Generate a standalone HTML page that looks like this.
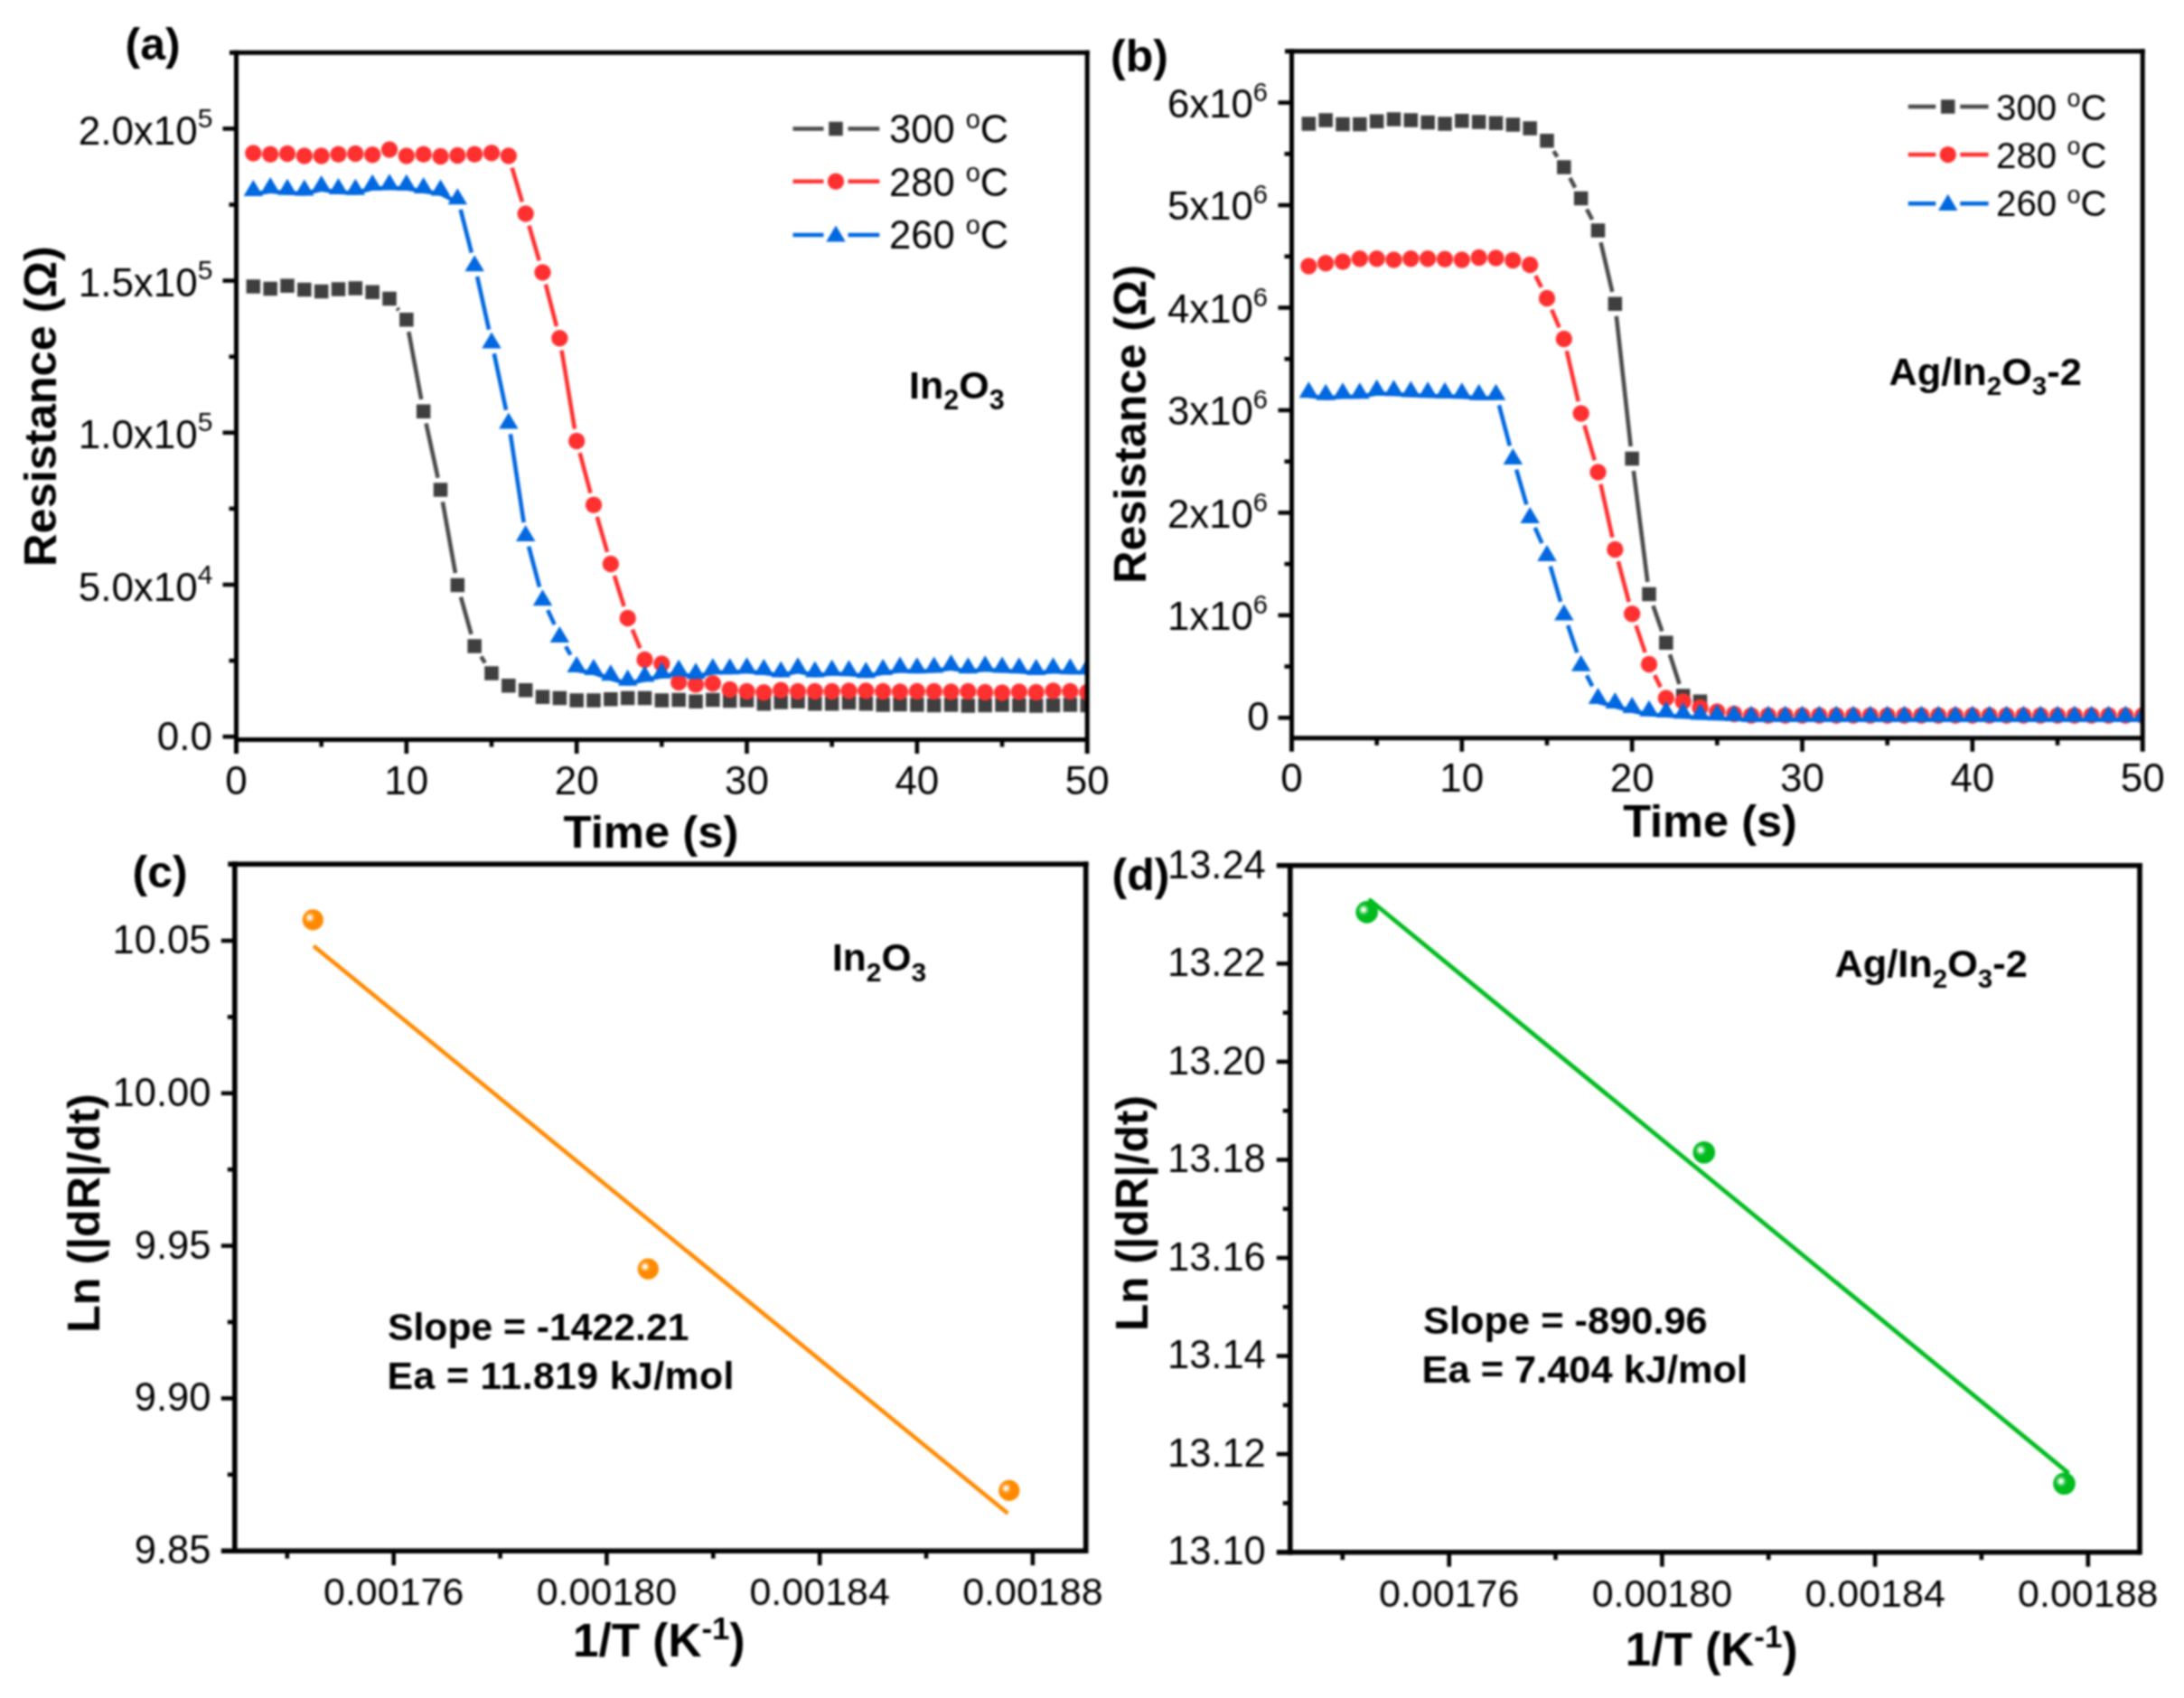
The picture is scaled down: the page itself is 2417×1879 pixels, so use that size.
<!DOCTYPE html>
<html lang="en"><head><meta charset="utf-8"><title>Resistance response and activation energy plots</title>
<style>html,body{margin:0;padding:0;background:#fff}svg{display:block}</style></head><body>
<svg width="2417" height="1879" viewBox="0 0 2417 1879" font-family='"Liberation Sans", Arial, Helvetica, sans-serif' fill="#000">
<defs>
<radialGradient id="gO" cx="0.35" cy="0.39" r="0.62" fx="0.35" fy="0.39"><stop offset="0" stop-color="#ffffff"/><stop offset="0.13" stop-color="#fff1de"/><stop offset="0.26" stop-color="#ffb458"/><stop offset="0.38" stop-color="#ff9212"/><stop offset="0.5" stop-color="#ff8a00"/><stop offset="1" stop-color="#ff8a00"/></radialGradient>
<radialGradient id="gG" cx="0.35" cy="0.39" r="0.62" fx="0.35" fy="0.39"><stop offset="0" stop-color="#ffffff"/><stop offset="0.13" stop-color="#e2fae6"/><stop offset="0.26" stop-color="#62d674"/><stop offset="0.38" stop-color="#14c030"/><stop offset="0.5" stop-color="#00bb1e"/><stop offset="1" stop-color="#00bb1e"/></radialGradient>
<filter id="soft" x="0" y="0" width="100%" height="100%" filterUnits="userSpaceOnUse" color-interpolation-filters="sRGB"><feGaussianBlur stdDeviation="0.8"/></filter>
</defs>
<rect width="2417" height="1879" fill="#fff"/>
<g filter="url(#soft)">
<rect x="-10" y="-10" width="2437" height="1899" fill="#fff"/>
<clipPath id="ca"><rect x="261.5" y="58.2" width="941.7" height="760.3"/></clipPath>
<g clip-path="url(#ca)">
<line x1="439.57" y1="341.07" x2="441.28" y2="343.18" stroke="#4a4a4a" stroke-width="4.6" stroke-linecap="butt"/>
<line x1="452.32" y1="367.12" x2="466.19" y2="441.88" stroke="#4a4a4a" stroke-width="4.6" stroke-linecap="butt"/>
<line x1="471.56" y1="468.54" x2="484.62" y2="528.71" stroke="#4a4a4a" stroke-width="4.6" stroke-linecap="butt"/>
<line x1="489.9" y1="555.39" x2="503.95" y2="634.11" stroke="#4a4a4a" stroke-width="4.6" stroke-linecap="butt"/>
<line x1="510" y1="660.6" x2="521.52" y2="701.9" stroke="#4a4a4a" stroke-width="4.6" stroke-linecap="butt"/>
<line x1="532.41" y1="726.52" x2="536.78" y2="733.48" stroke="#4a4a4a" stroke-width="4.6" stroke-linecap="butt"/>
<rect x="272.58" y="309.25" width="15.5" height="15.5" fill="#3f3f3f"/>
<rect x="291.42" y="311.75" width="15.5" height="15.5" fill="#3f3f3f"/>
<rect x="310.25" y="308.5" width="15.5" height="15.5" fill="#3f3f3f"/>
<rect x="329.09" y="312.75" width="15.5" height="15.5" fill="#3f3f3f"/>
<rect x="347.92" y="314.75" width="15.5" height="15.5" fill="#3f3f3f"/>
<rect x="366.75" y="312.25" width="15.5" height="15.5" fill="#3f3f3f"/>
<rect x="385.59" y="311.25" width="15.5" height="15.5" fill="#3f3f3f"/>
<rect x="404.42" y="315.5" width="15.5" height="15.5" fill="#3f3f3f"/>
<rect x="423.26" y="322.75" width="15.5" height="15.5" fill="#3f3f3f"/>
<rect x="442.09" y="346" width="15.5" height="15.5" fill="#3f3f3f"/>
<rect x="460.92" y="447.5" width="15.5" height="15.5" fill="#3f3f3f"/>
<rect x="479.76" y="534.25" width="15.5" height="15.5" fill="#3f3f3f"/>
<rect x="498.59" y="639.75" width="15.5" height="15.5" fill="#3f3f3f"/>
<rect x="517.43" y="707.25" width="15.5" height="15.5" fill="#3f3f3f"/>
<rect x="536.26" y="737.25" width="15.5" height="15.5" fill="#3f3f3f"/>
<rect x="555.09" y="751" width="15.5" height="15.5" fill="#3f3f3f"/>
<rect x="573.93" y="756" width="15.5" height="15.5" fill="#3f3f3f"/>
<rect x="592.76" y="763.5" width="15.5" height="15.5" fill="#3f3f3f"/>
<rect x="611.6" y="764.75" width="15.5" height="15.5" fill="#3f3f3f"/>
<rect x="630.43" y="767.25" width="15.5" height="15.5" fill="#3f3f3f"/>
<rect x="649.26" y="767.25" width="15.5" height="15.5" fill="#3f3f3f"/>
<rect x="668.1" y="766" width="15.5" height="15.5" fill="#3f3f3f"/>
<rect x="686.93" y="764.75" width="15.5" height="15.5" fill="#3f3f3f"/>
<rect x="705.77" y="764.75" width="15.5" height="15.5" fill="#3f3f3f"/>
<rect x="724.6" y="767.25" width="15.5" height="15.5" fill="#3f3f3f"/>
<rect x="743.43" y="766.75" width="15.5" height="15.5" fill="#3f3f3f"/>
<rect x="762.27" y="768.5" width="15.5" height="15.5" fill="#3f3f3f"/>
<rect x="781.1" y="766.75" width="15.5" height="15.5" fill="#3f3f3f"/>
<rect x="799.94" y="767.75" width="15.5" height="15.5" fill="#3f3f3f"/>
<rect x="818.77" y="767.25" width="15.5" height="15.5" fill="#3f3f3f"/>
<rect x="837.6" y="771" width="15.5" height="15.5" fill="#3f3f3f"/>
<rect x="856.44" y="769.25" width="15.5" height="15.5" fill="#3f3f3f"/>
<rect x="875.27" y="768.5" width="15.5" height="15.5" fill="#3f3f3f"/>
<rect x="894.11" y="771" width="15.5" height="15.5" fill="#3f3f3f"/>
<rect x="912.94" y="771" width="15.5" height="15.5" fill="#3f3f3f"/>
<rect x="931.77" y="769.75" width="15.5" height="15.5" fill="#3f3f3f"/>
<rect x="950.61" y="771" width="15.5" height="15.5" fill="#3f3f3f"/>
<rect x="969.44" y="772.25" width="15.5" height="15.5" fill="#3f3f3f"/>
<rect x="988.28" y="771.75" width="15.5" height="15.5" fill="#3f3f3f"/>
<rect x="1007.11" y="772.25" width="15.5" height="15.5" fill="#3f3f3f"/>
<rect x="1025.94" y="772.75" width="15.5" height="15.5" fill="#3f3f3f"/>
<rect x="1044.78" y="772.25" width="15.5" height="15.5" fill="#3f3f3f"/>
<rect x="1063.61" y="773.25" width="15.5" height="15.5" fill="#3f3f3f"/>
<rect x="1082.45" y="772.75" width="15.5" height="15.5" fill="#3f3f3f"/>
<rect x="1101.28" y="772.25" width="15.5" height="15.5" fill="#3f3f3f"/>
<rect x="1120.11" y="772.75" width="15.5" height="15.5" fill="#3f3f3f"/>
<rect x="1138.95" y="773.25" width="15.5" height="15.5" fill="#3f3f3f"/>
<rect x="1157.78" y="772.75" width="15.5" height="15.5" fill="#3f3f3f"/>
<rect x="1176.62" y="772.25" width="15.5" height="15.5" fill="#3f3f3f"/>
<rect x="1195.45" y="772.75" width="15.5" height="15.5" fill="#3f3f3f"/>
<line x1="566.68" y1="185.55" x2="577.84" y2="223.45" stroke="#ff3030" stroke-width="4.6" stroke-linecap="butt"/>
<line x1="585.46" y1="249.56" x2="596.73" y2="288.44" stroke="#ff3030" stroke-width="4.6" stroke-linecap="butt"/>
<line x1="603.92" y1="314.67" x2="615.94" y2="361.08" stroke="#ff3030" stroke-width="4.6" stroke-linecap="butt"/>
<line x1="621.57" y1="387.67" x2="635.96" y2="474.58" stroke="#ff3030" stroke-width="4.6" stroke-linecap="butt"/>
<line x1="641.68" y1="501.14" x2="653.52" y2="545.61" stroke="#ff3030" stroke-width="4.6" stroke-linecap="butt"/>
<line x1="660.79" y1="571.82" x2="672.08" y2="610.93" stroke="#ff3030" stroke-width="4.6" stroke-linecap="butt"/>
<line x1="679.92" y1="636.98" x2="690.61" y2="671.02" stroke="#ff3030" stroke-width="4.6" stroke-linecap="butt"/>
<line x1="699.84" y1="696.59" x2="708.36" y2="717.41" stroke="#ff3030" stroke-width="4.6" stroke-linecap="butt"/>
<line x1="741.55" y1="744.51" x2="741.98" y2="744.99" stroke="#ff3030" stroke-width="4.6" stroke-linecap="butt"/>
<circle cx="280.33" cy="169.5" r="9.2" fill="#ff3030"/>
<circle cx="299.17" cy="170.75" r="9.2" fill="#ff3030"/>
<circle cx="318" cy="170" r="9.2" fill="#ff3030"/>
<circle cx="336.84" cy="172.5" r="9.2" fill="#ff3030"/>
<circle cx="355.67" cy="172.5" r="9.2" fill="#ff3030"/>
<circle cx="374.5" cy="170.75" r="9.2" fill="#ff3030"/>
<circle cx="393.34" cy="170" r="9.2" fill="#ff3030"/>
<circle cx="412.17" cy="171.25" r="9.2" fill="#ff3030"/>
<circle cx="431.01" cy="165.5" r="9.2" fill="#ff3030"/>
<circle cx="449.84" cy="172.5" r="9.2" fill="#ff3030"/>
<circle cx="468.67" cy="170.75" r="9.2" fill="#ff3030"/>
<circle cx="487.51" cy="173" r="9.2" fill="#ff3030"/>
<circle cx="506.34" cy="172" r="9.2" fill="#ff3030"/>
<circle cx="525.18" cy="170.75" r="9.2" fill="#ff3030"/>
<circle cx="544.01" cy="169.25" r="9.2" fill="#ff3030"/>
<circle cx="562.84" cy="172.5" r="9.2" fill="#ff3030"/>
<circle cx="581.68" cy="236.5" r="9.2" fill="#ff3030"/>
<circle cx="600.51" cy="301.5" r="9.2" fill="#ff3030"/>
<circle cx="619.35" cy="374.25" r="9.2" fill="#ff3030"/>
<circle cx="638.18" cy="488" r="9.2" fill="#ff3030"/>
<circle cx="657.01" cy="558.75" r="9.2" fill="#ff3030"/>
<circle cx="675.85" cy="624" r="9.2" fill="#ff3030"/>
<circle cx="694.68" cy="684" r="9.2" fill="#ff3030"/>
<circle cx="713.52" cy="730" r="9.2" fill="#ff3030"/>
<circle cx="732.35" cy="734.5" r="9.2" fill="#ff3030"/>
<circle cx="751.18" cy="755" r="9.2" fill="#ff3030"/>
<circle cx="770.02" cy="757.5" r="9.2" fill="#ff3030"/>
<circle cx="788.85" cy="756.25" r="9.2" fill="#ff3030"/>
<circle cx="807.69" cy="763" r="9.2" fill="#ff3030"/>
<circle cx="826.52" cy="765" r="9.2" fill="#ff3030"/>
<circle cx="845.35" cy="766.25" r="9.2" fill="#ff3030"/>
<circle cx="864.19" cy="763.75" r="9.2" fill="#ff3030"/>
<circle cx="883.02" cy="765" r="9.2" fill="#ff3030"/>
<circle cx="901.86" cy="765" r="9.2" fill="#ff3030"/>
<circle cx="920.69" cy="765" r="9.2" fill="#ff3030"/>
<circle cx="939.52" cy="764.5" r="9.2" fill="#ff3030"/>
<circle cx="958.36" cy="764.5" r="9.2" fill="#ff3030"/>
<circle cx="977.19" cy="765" r="9.2" fill="#ff3030"/>
<circle cx="996.03" cy="765.5" r="9.2" fill="#ff3030"/>
<circle cx="1014.86" cy="765" r="9.2" fill="#ff3030"/>
<circle cx="1033.69" cy="765" r="9.2" fill="#ff3030"/>
<circle cx="1052.53" cy="765.5" r="9.2" fill="#ff3030"/>
<circle cx="1071.36" cy="765" r="9.2" fill="#ff3030"/>
<circle cx="1090.2" cy="766" r="9.2" fill="#ff3030"/>
<circle cx="1109.03" cy="766.5" r="9.2" fill="#ff3030"/>
<circle cx="1127.86" cy="765.5" r="9.2" fill="#ff3030"/>
<circle cx="1146.7" cy="766" r="9.2" fill="#ff3030"/>
<circle cx="1165.53" cy="764.5" r="9.2" fill="#ff3030"/>
<circle cx="1184.37" cy="765" r="9.2" fill="#ff3030"/>
<circle cx="1203.2" cy="766" r="9.2" fill="#ff3030"/>
<line x1="509.7" y1="231.93" x2="521.82" y2="279.57" stroke="#0068e0" stroke-width="4.6" stroke-linecap="butt"/>
<line x1="528.11" y1="306.03" x2="541.08" y2="364.72" stroke="#0068e0" stroke-width="4.6" stroke-linecap="butt"/>
<line x1="546.83" y1="391.31" x2="560.03" y2="453.69" stroke="#0068e0" stroke-width="4.6" stroke-linecap="butt"/>
<line x1="564.88" y1="480.45" x2="579.64" y2="578.05" stroke="#0068e0" stroke-width="4.6" stroke-linecap="butt"/>
<line x1="585.15" y1="604.65" x2="597.04" y2="649.6" stroke="#0068e0" stroke-width="4.6" stroke-linecap="butt"/>
<line x1="606.22" y1="675.1" x2="613.64" y2="691.15" stroke="#0068e0" stroke-width="4.6" stroke-linecap="butt"/>
<line x1="626.09" y1="715.31" x2="631.44" y2="724.69" stroke="#0068e0" stroke-width="4.6" stroke-linecap="butt"/>
<line x1="280.33" y1="214.8" x2="299.17" y2="211.8" stroke="#0068e0" stroke-width="4.6" stroke-linecap="butt"/>
<line x1="299.17" y1="211.8" x2="318" y2="213.55" stroke="#0068e0" stroke-width="4.6" stroke-linecap="butt"/>
<line x1="318" y1="213.55" x2="336.84" y2="214.3" stroke="#0068e0" stroke-width="4.6" stroke-linecap="butt"/>
<line x1="336.84" y1="214.3" x2="355.67" y2="209.8" stroke="#0068e0" stroke-width="4.6" stroke-linecap="butt"/>
<line x1="355.67" y1="209.8" x2="374.5" y2="212.8" stroke="#0068e0" stroke-width="4.6" stroke-linecap="butt"/>
<line x1="374.5" y1="212.8" x2="393.34" y2="213.55" stroke="#0068e0" stroke-width="4.6" stroke-linecap="butt"/>
<line x1="393.34" y1="213.55" x2="412.17" y2="208.55" stroke="#0068e0" stroke-width="4.6" stroke-linecap="butt"/>
<line x1="412.17" y1="208.55" x2="431.01" y2="208.05" stroke="#0068e0" stroke-width="4.6" stroke-linecap="butt"/>
<line x1="431.01" y1="208.05" x2="449.84" y2="208.55" stroke="#0068e0" stroke-width="4.6" stroke-linecap="butt"/>
<line x1="449.84" y1="208.55" x2="468.67" y2="211.8" stroke="#0068e0" stroke-width="4.6" stroke-linecap="butt"/>
<line x1="468.67" y1="211.8" x2="487.51" y2="214.3" stroke="#0068e0" stroke-width="4.6" stroke-linecap="butt"/>
<line x1="487.51" y1="214.3" x2="506.34" y2="224.05" stroke="#0068e0" stroke-width="4.6" stroke-linecap="butt"/>
<line x1="638.18" y1="741.8" x2="657.01" y2="744.8" stroke="#0068e0" stroke-width="4.6" stroke-linecap="butt"/>
<line x1="657.01" y1="744.8" x2="675.85" y2="751.05" stroke="#0068e0" stroke-width="4.6" stroke-linecap="butt"/>
<line x1="675.85" y1="751.05" x2="694.68" y2="756.55" stroke="#0068e0" stroke-width="4.6" stroke-linecap="butt"/>
<line x1="694.68" y1="756.55" x2="713.52" y2="752.3" stroke="#0068e0" stroke-width="4.6" stroke-linecap="butt"/>
<line x1="713.52" y1="752.3" x2="732.35" y2="748.55" stroke="#0068e0" stroke-width="4.6" stroke-linecap="butt"/>
<line x1="732.35" y1="748.55" x2="751.18" y2="745.55" stroke="#0068e0" stroke-width="4.6" stroke-linecap="butt"/>
<line x1="751.18" y1="745.55" x2="770.02" y2="749.05" stroke="#0068e0" stroke-width="4.6" stroke-linecap="butt"/>
<line x1="770.02" y1="749.05" x2="788.85" y2="744.05" stroke="#0068e0" stroke-width="4.6" stroke-linecap="butt"/>
<line x1="788.85" y1="744.05" x2="807.69" y2="744.05" stroke="#0068e0" stroke-width="4.6" stroke-linecap="butt"/>
<line x1="807.69" y1="744.05" x2="826.52" y2="743.05" stroke="#0068e0" stroke-width="4.6" stroke-linecap="butt"/>
<line x1="826.52" y1="743.05" x2="845.35" y2="744.8" stroke="#0068e0" stroke-width="4.6" stroke-linecap="butt"/>
<line x1="845.35" y1="744.8" x2="864.19" y2="747.3" stroke="#0068e0" stroke-width="4.6" stroke-linecap="butt"/>
<line x1="864.19" y1="747.3" x2="883.02" y2="743.05" stroke="#0068e0" stroke-width="4.6" stroke-linecap="butt"/>
<line x1="883.02" y1="743.05" x2="901.86" y2="747.3" stroke="#0068e0" stroke-width="4.6" stroke-linecap="butt"/>
<line x1="901.86" y1="747.3" x2="920.69" y2="745.55" stroke="#0068e0" stroke-width="4.6" stroke-linecap="butt"/>
<line x1="920.69" y1="745.55" x2="939.52" y2="746.05" stroke="#0068e0" stroke-width="4.6" stroke-linecap="butt"/>
<line x1="939.52" y1="746.05" x2="958.36" y2="748.05" stroke="#0068e0" stroke-width="4.6" stroke-linecap="butt"/>
<line x1="958.36" y1="748.05" x2="977.19" y2="744.8" stroke="#0068e0" stroke-width="4.6" stroke-linecap="butt"/>
<line x1="977.19" y1="744.8" x2="996.03" y2="742.3" stroke="#0068e0" stroke-width="4.6" stroke-linecap="butt"/>
<line x1="996.03" y1="742.3" x2="1014.86" y2="743.05" stroke="#0068e0" stroke-width="4.6" stroke-linecap="butt"/>
<line x1="1014.86" y1="743.05" x2="1033.69" y2="742.3" stroke="#0068e0" stroke-width="4.6" stroke-linecap="butt"/>
<line x1="1033.69" y1="742.3" x2="1052.53" y2="739.8" stroke="#0068e0" stroke-width="4.6" stroke-linecap="butt"/>
<line x1="1052.53" y1="739.8" x2="1071.36" y2="743.05" stroke="#0068e0" stroke-width="4.6" stroke-linecap="butt"/>
<line x1="1071.36" y1="743.05" x2="1090.2" y2="741.05" stroke="#0068e0" stroke-width="4.6" stroke-linecap="butt"/>
<line x1="1090.2" y1="741.05" x2="1109.03" y2="742.3" stroke="#0068e0" stroke-width="4.6" stroke-linecap="butt"/>
<line x1="1109.03" y1="742.3" x2="1127.86" y2="743.05" stroke="#0068e0" stroke-width="4.6" stroke-linecap="butt"/>
<line x1="1127.86" y1="743.05" x2="1146.7" y2="744.8" stroke="#0068e0" stroke-width="4.6" stroke-linecap="butt"/>
<line x1="1146.7" y1="744.8" x2="1165.53" y2="743.05" stroke="#0068e0" stroke-width="4.6" stroke-linecap="butt"/>
<line x1="1165.53" y1="743.05" x2="1184.37" y2="744.05" stroke="#0068e0" stroke-width="4.6" stroke-linecap="butt"/>
<line x1="1184.37" y1="744.05" x2="1203.2" y2="744.05" stroke="#0068e0" stroke-width="4.6" stroke-linecap="butt"/>
<path d="M269.58 217.1L291.08 217.1L280.33 198.9Z" fill="#0068e0"/>
<path d="M288.42 214.1L309.92 214.1L299.17 195.9Z" fill="#0068e0"/>
<path d="M307.25 215.85L328.75 215.85L318 197.65Z" fill="#0068e0"/>
<path d="M326.09 216.6L347.59 216.6L336.84 198.4Z" fill="#0068e0"/>
<path d="M344.92 212.1L366.42 212.1L355.67 193.9Z" fill="#0068e0"/>
<path d="M363.75 215.1L385.25 215.1L374.5 196.9Z" fill="#0068e0"/>
<path d="M382.59 215.85L404.09 215.85L393.34 197.65Z" fill="#0068e0"/>
<path d="M401.42 210.85L422.92 210.85L412.17 192.65Z" fill="#0068e0"/>
<path d="M420.26 210.35L441.76 210.35L431.01 192.15Z" fill="#0068e0"/>
<path d="M439.09 210.85L460.59 210.85L449.84 192.65Z" fill="#0068e0"/>
<path d="M457.92 214.1L479.42 214.1L468.67 195.9Z" fill="#0068e0"/>
<path d="M476.76 216.6L498.26 216.6L487.51 198.4Z" fill="#0068e0"/>
<path d="M495.59 226.35L517.09 226.35L506.34 208.15Z" fill="#0068e0"/>
<path d="M514.43 300.35L535.93 300.35L525.18 282.15Z" fill="#0068e0"/>
<path d="M533.26 385.6L554.76 385.6L544.01 367.4Z" fill="#0068e0"/>
<path d="M552.09 474.6L573.59 474.6L562.84 456.4Z" fill="#0068e0"/>
<path d="M570.93 599.1L592.43 599.1L581.68 580.9Z" fill="#0068e0"/>
<path d="M589.76 670.35L611.26 670.35L600.51 652.15Z" fill="#0068e0"/>
<path d="M608.6 711.1L630.1 711.1L619.35 692.9Z" fill="#0068e0"/>
<path d="M627.43 744.1L648.93 744.1L638.18 725.9Z" fill="#0068e0"/>
<path d="M646.26 747.1L667.76 747.1L657.01 728.9Z" fill="#0068e0"/>
<path d="M665.1 753.35L686.6 753.35L675.85 735.15Z" fill="#0068e0"/>
<path d="M683.93 758.85L705.43 758.85L694.68 740.65Z" fill="#0068e0"/>
<path d="M702.77 754.6L724.27 754.6L713.52 736.4Z" fill="#0068e0"/>
<path d="M721.6 750.85L743.1 750.85L732.35 732.65Z" fill="#0068e0"/>
<path d="M740.43 747.85L761.93 747.85L751.18 729.65Z" fill="#0068e0"/>
<path d="M759.27 751.35L780.77 751.35L770.02 733.15Z" fill="#0068e0"/>
<path d="M778.1 746.35L799.6 746.35L788.85 728.15Z" fill="#0068e0"/>
<path d="M796.94 746.35L818.44 746.35L807.69 728.15Z" fill="#0068e0"/>
<path d="M815.77 745.35L837.27 745.35L826.52 727.15Z" fill="#0068e0"/>
<path d="M834.6 747.1L856.1 747.1L845.35 728.9Z" fill="#0068e0"/>
<path d="M853.44 749.6L874.94 749.6L864.19 731.4Z" fill="#0068e0"/>
<path d="M872.27 745.35L893.77 745.35L883.02 727.15Z" fill="#0068e0"/>
<path d="M891.11 749.6L912.61 749.6L901.86 731.4Z" fill="#0068e0"/>
<path d="M909.94 747.85L931.44 747.85L920.69 729.65Z" fill="#0068e0"/>
<path d="M928.77 748.35L950.27 748.35L939.52 730.15Z" fill="#0068e0"/>
<path d="M947.61 750.35L969.11 750.35L958.36 732.15Z" fill="#0068e0"/>
<path d="M966.44 747.1L987.94 747.1L977.19 728.9Z" fill="#0068e0"/>
<path d="M985.28 744.6L1006.78 744.6L996.03 726.4Z" fill="#0068e0"/>
<path d="M1004.11 745.35L1025.61 745.35L1014.86 727.15Z" fill="#0068e0"/>
<path d="M1022.94 744.6L1044.44 744.6L1033.69 726.4Z" fill="#0068e0"/>
<path d="M1041.78 742.1L1063.28 742.1L1052.53 723.9Z" fill="#0068e0"/>
<path d="M1060.61 745.35L1082.11 745.35L1071.36 727.15Z" fill="#0068e0"/>
<path d="M1079.45 743.35L1100.95 743.35L1090.2 725.15Z" fill="#0068e0"/>
<path d="M1098.28 744.6L1119.78 744.6L1109.03 726.4Z" fill="#0068e0"/>
<path d="M1117.11 745.35L1138.61 745.35L1127.86 727.15Z" fill="#0068e0"/>
<path d="M1135.95 747.1L1157.45 747.1L1146.7 728.9Z" fill="#0068e0"/>
<path d="M1154.78 745.35L1176.28 745.35L1165.53 727.15Z" fill="#0068e0"/>
<path d="M1173.62 746.35L1195.12 746.35L1184.37 728.15Z" fill="#0068e0"/>
<path d="M1192.45 746.35L1213.95 746.35L1203.2 728.15Z" fill="#0068e0"/>
</g>
<line x1="254" y1="58.2" x2="1205.7" y2="58.2" stroke="#000" stroke-width="5" stroke-linecap="butt"/>
<line x1="261.5" y1="55.7" x2="261.5" y2="834" stroke="#000" stroke-width="5" stroke-linecap="butt"/>
<line x1="1203.2" y1="55.7" x2="1203.2" y2="834" stroke="#000" stroke-width="5" stroke-linecap="butt"/>
<line x1="261.5" y1="818.5" x2="1203.2" y2="818.5" stroke="#000" stroke-width="5" stroke-linecap="butt"/>
<line x1="246.5" y1="815.2" x2="261.5" y2="815.2" stroke="#000" stroke-width="4.6" stroke-linecap="butt"/>
<line x1="253.5" y1="731.1" x2="261.5" y2="731.1" stroke="#000" stroke-width="4.6" stroke-linecap="butt"/>
<line x1="246.5" y1="647" x2="261.5" y2="647" stroke="#000" stroke-width="4.6" stroke-linecap="butt"/>
<line x1="253.5" y1="562.9" x2="261.5" y2="562.9" stroke="#000" stroke-width="4.6" stroke-linecap="butt"/>
<line x1="246.5" y1="478.8" x2="261.5" y2="478.8" stroke="#000" stroke-width="4.6" stroke-linecap="butt"/>
<line x1="253.5" y1="394.7" x2="261.5" y2="394.7" stroke="#000" stroke-width="4.6" stroke-linecap="butt"/>
<line x1="246.5" y1="310.6" x2="261.5" y2="310.6" stroke="#000" stroke-width="4.6" stroke-linecap="butt"/>
<line x1="253.5" y1="226.5" x2="261.5" y2="226.5" stroke="#000" stroke-width="4.6" stroke-linecap="butt"/>
<line x1="246.5" y1="142.4" x2="261.5" y2="142.4" stroke="#000" stroke-width="4.6" stroke-linecap="butt"/>
<line x1="355.67" y1="818.5" x2="355.67" y2="826.5" stroke="#000" stroke-width="4.6" stroke-linecap="butt"/>
<text x="261.5" y="878.5" font-size="44" text-anchor="middle">0</text>
<line x1="449.84" y1="818.5" x2="449.84" y2="834" stroke="#000" stroke-width="4.6" stroke-linecap="butt"/>
<line x1="544.01" y1="818.5" x2="544.01" y2="826.5" stroke="#000" stroke-width="4.6" stroke-linecap="butt"/>
<text x="449.84" y="878.5" font-size="44" text-anchor="middle">10</text>
<line x1="638.18" y1="818.5" x2="638.18" y2="834" stroke="#000" stroke-width="4.6" stroke-linecap="butt"/>
<line x1="732.35" y1="818.5" x2="732.35" y2="826.5" stroke="#000" stroke-width="4.6" stroke-linecap="butt"/>
<text x="638.18" y="878.5" font-size="44" text-anchor="middle">20</text>
<line x1="826.52" y1="818.5" x2="826.52" y2="834" stroke="#000" stroke-width="4.6" stroke-linecap="butt"/>
<line x1="920.69" y1="818.5" x2="920.69" y2="826.5" stroke="#000" stroke-width="4.6" stroke-linecap="butt"/>
<text x="826.52" y="878.5" font-size="44" text-anchor="middle">30</text>
<line x1="1014.86" y1="818.5" x2="1014.86" y2="834" stroke="#000" stroke-width="4.6" stroke-linecap="butt"/>
<line x1="1109.03" y1="818.5" x2="1109.03" y2="826.5" stroke="#000" stroke-width="4.6" stroke-linecap="butt"/>
<text x="1014.86" y="878.5" font-size="44" text-anchor="middle">40</text>
<text x="1203.2" y="878.5" font-size="44" text-anchor="middle">50</text>
<text x="235" y="829.8" font-size="44" text-anchor="end">0.0</text>
<text x="235.5" y="664.5" font-size="44" text-anchor="end">5.0x10<tspan font-size="30" dy="-19">4</tspan></text>
<text x="235.5" y="496.3" font-size="44" text-anchor="end">1.0x10<tspan font-size="30" dy="-19">5</tspan></text>
<text x="235.5" y="328.1" font-size="44" text-anchor="end">1.5x10<tspan font-size="30" dy="-19">5</tspan></text>
<text x="235.5" y="159.9" font-size="44" text-anchor="end">2.0x10<tspan font-size="30" dy="-19">5</tspan></text>
<text transform="translate(61.5 449.5) rotate(-90)" font-size="50.5" font-weight="bold" text-anchor="middle">Resistance (Ω)</text>
<text x="720.5" y="937.5" font-size="50.8" font-weight="bold" text-anchor="middle">Time (s)</text>
<text x="138.5" y="66.4" font-size="50" font-weight="bold" text-anchor="start">(a)</text>
<text x="1006" y="440.5" font-size="43" font-weight="bold" text-anchor="start">In<tspan font-size="30.5" dy="12">2</tspan><tspan dy="-12">O</tspan><tspan font-size="30.5" dy="12">3</tspan></text>
<line x1="877.5" y1="142.5" x2="911.5" y2="142.5" stroke="#4a4a4a" stroke-width="4.6" stroke-linecap="butt"/>
<line x1="938.5" y1="142.5" x2="973.3" y2="142.5" stroke="#4a4a4a" stroke-width="4.6" stroke-linecap="butt"/>
<rect x="917.25" y="134.75" width="15.5" height="15.5" fill="#3f3f3f"/>
<text x="984" y="157.5" font-size="43.5" text-anchor="start">300 <tspan font-size="29" dy="-15.66">o</tspan><tspan dy="15.66">C</tspan></text>
<line x1="877.5" y1="200.8" x2="911.5" y2="200.8" stroke="#ff3030" stroke-width="4.6" stroke-linecap="butt"/>
<line x1="938.5" y1="200.8" x2="973.3" y2="200.8" stroke="#ff3030" stroke-width="4.6" stroke-linecap="butt"/>
<circle cx="925" cy="200.8" r="9.2" fill="#ff3030"/>
<text x="984" y="216.5" font-size="43.5" text-anchor="start">280 <tspan font-size="29" dy="-15.66">o</tspan><tspan dy="15.66">C</tspan></text>
<line x1="877.5" y1="260" x2="911.5" y2="260" stroke="#0068e0" stroke-width="4.6" stroke-linecap="butt"/>
<line x1="938.5" y1="260" x2="973.3" y2="260" stroke="#0068e0" stroke-width="4.6" stroke-linecap="butt"/>
<path d="M914.25 267.6L935.75 267.6L925 249.4Z" fill="#0068e0"/>
<text x="984" y="275" font-size="43.5" text-anchor="start">260 <tspan font-size="29" dy="-15.66">o</tspan><tspan dy="15.66">C</tspan></text>
<clipPath id="cb"><rect x="1429.5" y="56.8" width="941.7" height="760"/></clipPath>
<g clip-path="url(#cb)">
<line x1="1719.37" y1="167.18" x2="1723.48" y2="173.57" stroke="#4a4a4a" stroke-width="4.6" stroke-linecap="butt"/>
<line x1="1737.36" y1="196.94" x2="1743.16" y2="207.56" stroke="#4a4a4a" stroke-width="4.6" stroke-linecap="butt"/>
<line x1="1756.05" y1="231.51" x2="1762.14" y2="242.99" stroke="#4a4a4a" stroke-width="4.6" stroke-linecap="butt"/>
<line x1="1771.58" y1="268.25" x2="1784.27" y2="323" stroke="#4a4a4a" stroke-width="4.6" stroke-linecap="butt"/>
<line x1="1788.83" y1="349.77" x2="1804.69" y2="493.98" stroke="#4a4a4a" stroke-width="4.6" stroke-linecap="butt"/>
<line x1="1807.87" y1="520.99" x2="1823.32" y2="644.01" stroke="#4a4a4a" stroke-width="4.6" stroke-linecap="butt"/>
<line x1="1829.51" y1="670.33" x2="1839.35" y2="698.42" stroke="#4a4a4a" stroke-width="4.6" stroke-linecap="butt"/>
<line x1="1848" y1="724.2" x2="1858.53" y2="757.05" stroke="#4a4a4a" stroke-width="4.6" stroke-linecap="butt"/>
<rect x="1440.58" y="129.25" width="15.5" height="15.5" fill="#3f3f3f"/>
<rect x="1459.42" y="125.25" width="15.5" height="15.5" fill="#3f3f3f"/>
<rect x="1478.25" y="129.75" width="15.5" height="15.5" fill="#3f3f3f"/>
<rect x="1497.09" y="129.75" width="15.5" height="15.5" fill="#3f3f3f"/>
<rect x="1515.92" y="126.5" width="15.5" height="15.5" fill="#3f3f3f"/>
<rect x="1534.75" y="124.25" width="15.5" height="15.5" fill="#3f3f3f"/>
<rect x="1553.59" y="125.25" width="15.5" height="15.5" fill="#3f3f3f"/>
<rect x="1572.42" y="127.75" width="15.5" height="15.5" fill="#3f3f3f"/>
<rect x="1591.26" y="129.25" width="15.5" height="15.5" fill="#3f3f3f"/>
<rect x="1610.09" y="126" width="15.5" height="15.5" fill="#3f3f3f"/>
<rect x="1628.92" y="127.25" width="15.5" height="15.5" fill="#3f3f3f"/>
<rect x="1647.76" y="128.5" width="15.5" height="15.5" fill="#3f3f3f"/>
<rect x="1666.59" y="130.25" width="15.5" height="15.5" fill="#3f3f3f"/>
<rect x="1685.43" y="134.25" width="15.5" height="15.5" fill="#3f3f3f"/>
<rect x="1704.26" y="148" width="15.5" height="15.5" fill="#3f3f3f"/>
<rect x="1723.09" y="177.25" width="15.5" height="15.5" fill="#3f3f3f"/>
<rect x="1741.93" y="211.75" width="15.5" height="15.5" fill="#3f3f3f"/>
<rect x="1760.76" y="247.25" width="15.5" height="15.5" fill="#3f3f3f"/>
<rect x="1779.6" y="328.5" width="15.5" height="15.5" fill="#3f3f3f"/>
<rect x="1798.43" y="499.75" width="15.5" height="15.5" fill="#3f3f3f"/>
<rect x="1817.26" y="649.75" width="15.5" height="15.5" fill="#3f3f3f"/>
<rect x="1836.1" y="703.5" width="15.5" height="15.5" fill="#3f3f3f"/>
<rect x="1854.93" y="762.25" width="15.5" height="15.5" fill="#3f3f3f"/>
<rect x="1873.77" y="768.5" width="15.5" height="15.5" fill="#3f3f3f"/>
<line x1="1699.35" y1="305.12" x2="1705.84" y2="317.88" stroke="#ff3030" stroke-width="4.6" stroke-linecap="butt"/>
<line x1="1717.26" y1="342.55" x2="1725.59" y2="362.45" stroke="#ff3030" stroke-width="4.6" stroke-linecap="butt"/>
<line x1="1733.87" y1="388.26" x2="1746.65" y2="444.24" stroke="#ff3030" stroke-width="4.6" stroke-linecap="butt"/>
<line x1="1753.46" y1="470.56" x2="1764.73" y2="509.44" stroke="#ff3030" stroke-width="4.6" stroke-linecap="butt"/>
<line x1="1771.44" y1="535.78" x2="1784.42" y2="594.72" stroke="#ff3030" stroke-width="4.6" stroke-linecap="butt"/>
<line x1="1790.82" y1="621.15" x2="1802.7" y2="666.1" stroke="#ff3030" stroke-width="4.6" stroke-linecap="butt"/>
<line x1="1810.53" y1="692.13" x2="1820.66" y2="722.12" stroke="#ff3030" stroke-width="4.6" stroke-linecap="butt"/>
<line x1="1831.12" y1="747.15" x2="1837.74" y2="760.35" stroke="#ff3030" stroke-width="4.6" stroke-linecap="butt"/>
<circle cx="1448.33" cy="294.5" r="9.2" fill="#ff3030"/>
<circle cx="1467.17" cy="291.25" r="9.2" fill="#ff3030"/>
<circle cx="1486" cy="289.5" r="9.2" fill="#ff3030"/>
<circle cx="1504.84" cy="286.25" r="9.2" fill="#ff3030"/>
<circle cx="1523.67" cy="286.25" r="9.2" fill="#ff3030"/>
<circle cx="1542.5" cy="287.5" r="9.2" fill="#ff3030"/>
<circle cx="1561.34" cy="286.25" r="9.2" fill="#ff3030"/>
<circle cx="1580.17" cy="286.25" r="9.2" fill="#ff3030"/>
<circle cx="1599.01" cy="286.75" r="9.2" fill="#ff3030"/>
<circle cx="1617.84" cy="287.5" r="9.2" fill="#ff3030"/>
<circle cx="1636.67" cy="285" r="9.2" fill="#ff3030"/>
<circle cx="1655.51" cy="285.5" r="9.2" fill="#ff3030"/>
<circle cx="1674.34" cy="288" r="9.2" fill="#ff3030"/>
<circle cx="1693.18" cy="293" r="9.2" fill="#ff3030"/>
<circle cx="1712.01" cy="330" r="9.2" fill="#ff3030"/>
<circle cx="1730.84" cy="375" r="9.2" fill="#ff3030"/>
<circle cx="1749.68" cy="457.5" r="9.2" fill="#ff3030"/>
<circle cx="1768.51" cy="522.5" r="9.2" fill="#ff3030"/>
<circle cx="1787.35" cy="608" r="9.2" fill="#ff3030"/>
<circle cx="1806.18" cy="679.25" r="9.2" fill="#ff3030"/>
<circle cx="1825.01" cy="735" r="9.2" fill="#ff3030"/>
<circle cx="1843.85" cy="772.5" r="9.2" fill="#ff3030"/>
<circle cx="1862.68" cy="776.25" r="9.2" fill="#ff3030"/>
<circle cx="1881.52" cy="783" r="9.2" fill="#ff3030"/>
<circle cx="1900.35" cy="787.5" r="9.2" fill="#ff3030"/>
<circle cx="1919.18" cy="790" r="9.2" fill="#ff3030"/>
<circle cx="1938.02" cy="791.8" r="9.2" fill="#ff3030"/>
<circle cx="1956.85" cy="791.8" r="9.2" fill="#ff3030"/>
<circle cx="1975.69" cy="791.8" r="9.2" fill="#ff3030"/>
<circle cx="1994.52" cy="791.8" r="9.2" fill="#ff3030"/>
<circle cx="2013.35" cy="791.8" r="9.2" fill="#ff3030"/>
<circle cx="2032.19" cy="791.8" r="9.2" fill="#ff3030"/>
<circle cx="2051.02" cy="791.8" r="9.2" fill="#ff3030"/>
<circle cx="2069.86" cy="791.8" r="9.2" fill="#ff3030"/>
<circle cx="2088.69" cy="791.8" r="9.2" fill="#ff3030"/>
<circle cx="2107.52" cy="791.8" r="9.2" fill="#ff3030"/>
<circle cx="2126.36" cy="791.8" r="9.2" fill="#ff3030"/>
<circle cx="2145.19" cy="791.8" r="9.2" fill="#ff3030"/>
<circle cx="2164.03" cy="791.8" r="9.2" fill="#ff3030"/>
<circle cx="2182.86" cy="791.8" r="9.2" fill="#ff3030"/>
<circle cx="2201.69" cy="791.8" r="9.2" fill="#ff3030"/>
<circle cx="2220.53" cy="791.8" r="9.2" fill="#ff3030"/>
<circle cx="2239.36" cy="791.8" r="9.2" fill="#ff3030"/>
<circle cx="2258.2" cy="791.8" r="9.2" fill="#ff3030"/>
<circle cx="2277.03" cy="791.8" r="9.2" fill="#ff3030"/>
<circle cx="2295.86" cy="791.8" r="9.2" fill="#ff3030"/>
<circle cx="2314.7" cy="791.8" r="9.2" fill="#ff3030"/>
<circle cx="2333.53" cy="791.8" r="9.2" fill="#ff3030"/>
<circle cx="2352.37" cy="791.8" r="9.2" fill="#ff3030"/>
<circle cx="2371.2" cy="791.8" r="9.2" fill="#ff3030"/>
<line x1="1658.98" y1="448.4" x2="1670.87" y2="493.35" stroke="#0068e0" stroke-width="4.6" stroke-linecap="butt"/>
<line x1="1678.13" y1="519.56" x2="1689.39" y2="558.44" stroke="#0068e0" stroke-width="4.6" stroke-linecap="butt"/>
<line x1="1698.74" y1="583.91" x2="1706.45" y2="601.09" stroke="#0068e0" stroke-width="4.6" stroke-linecap="butt"/>
<line x1="1715.77" y1="626.57" x2="1727.09" y2="665.93" stroke="#0068e0" stroke-width="4.6" stroke-linecap="butt"/>
<line x1="1735.16" y1="691.9" x2="1745.36" y2="722.35" stroke="#0068e0" stroke-width="4.6" stroke-linecap="butt"/>
<line x1="1755.95" y1="747.32" x2="1762.24" y2="759.43" stroke="#0068e0" stroke-width="4.6" stroke-linecap="butt"/>
<line x1="1448.33" y1="438.05" x2="1467.17" y2="440.55" stroke="#0068e0" stroke-width="4.6" stroke-linecap="butt"/>
<line x1="1467.17" y1="440.55" x2="1486" y2="439.05" stroke="#0068e0" stroke-width="4.6" stroke-linecap="butt"/>
<line x1="1486" y1="439.05" x2="1504.84" y2="439.05" stroke="#0068e0" stroke-width="4.6" stroke-linecap="butt"/>
<line x1="1504.84" y1="439.05" x2="1523.67" y2="435.55" stroke="#0068e0" stroke-width="4.6" stroke-linecap="butt"/>
<line x1="1523.67" y1="435.55" x2="1542.5" y2="436.05" stroke="#0068e0" stroke-width="4.6" stroke-linecap="butt"/>
<line x1="1542.5" y1="436.05" x2="1561.34" y2="437.3" stroke="#0068e0" stroke-width="4.6" stroke-linecap="butt"/>
<line x1="1561.34" y1="437.3" x2="1580.17" y2="438.05" stroke="#0068e0" stroke-width="4.6" stroke-linecap="butt"/>
<line x1="1580.17" y1="438.05" x2="1599.01" y2="438.55" stroke="#0068e0" stroke-width="4.6" stroke-linecap="butt"/>
<line x1="1599.01" y1="438.55" x2="1617.84" y2="439.05" stroke="#0068e0" stroke-width="4.6" stroke-linecap="butt"/>
<line x1="1617.84" y1="439.05" x2="1636.67" y2="440.55" stroke="#0068e0" stroke-width="4.6" stroke-linecap="butt"/>
<line x1="1636.67" y1="440.55" x2="1655.51" y2="440.55" stroke="#0068e0" stroke-width="4.6" stroke-linecap="butt"/>
<line x1="1768.51" y1="776.8" x2="1787.35" y2="781.8" stroke="#0068e0" stroke-width="4.6" stroke-linecap="butt"/>
<line x1="1787.35" y1="781.8" x2="1806.18" y2="786.8" stroke="#0068e0" stroke-width="4.6" stroke-linecap="butt"/>
<line x1="1806.18" y1="786.8" x2="1825.01" y2="790.55" stroke="#0068e0" stroke-width="4.6" stroke-linecap="butt"/>
<line x1="1825.01" y1="790.55" x2="1843.85" y2="791.8" stroke="#0068e0" stroke-width="4.6" stroke-linecap="butt"/>
<line x1="1843.85" y1="791.8" x2="1862.68" y2="793.05" stroke="#0068e0" stroke-width="4.6" stroke-linecap="butt"/>
<line x1="1862.68" y1="793.05" x2="1881.52" y2="794.3" stroke="#0068e0" stroke-width="4.6" stroke-linecap="butt"/>
<line x1="1881.52" y1="794.3" x2="1900.35" y2="795.05" stroke="#0068e0" stroke-width="4.6" stroke-linecap="butt"/>
<line x1="1900.35" y1="795.05" x2="1919.18" y2="795.8" stroke="#0068e0" stroke-width="4.6" stroke-linecap="butt"/>
<line x1="1919.18" y1="795.8" x2="1938.02" y2="796.6" stroke="#0068e0" stroke-width="4.6" stroke-linecap="butt"/>
<line x1="1938.02" y1="796.6" x2="1956.85" y2="796.6" stroke="#0068e0" stroke-width="4.6" stroke-linecap="butt"/>
<line x1="1956.85" y1="796.6" x2="1975.69" y2="796.6" stroke="#0068e0" stroke-width="4.6" stroke-linecap="butt"/>
<line x1="1975.69" y1="796.6" x2="1994.52" y2="796.6" stroke="#0068e0" stroke-width="4.6" stroke-linecap="butt"/>
<line x1="1994.52" y1="796.6" x2="2013.35" y2="796.6" stroke="#0068e0" stroke-width="4.6" stroke-linecap="butt"/>
<line x1="2013.35" y1="796.6" x2="2032.19" y2="796.6" stroke="#0068e0" stroke-width="4.6" stroke-linecap="butt"/>
<line x1="2032.19" y1="796.6" x2="2051.02" y2="796.6" stroke="#0068e0" stroke-width="4.6" stroke-linecap="butt"/>
<line x1="2051.02" y1="796.6" x2="2069.86" y2="796.6" stroke="#0068e0" stroke-width="4.6" stroke-linecap="butt"/>
<line x1="2069.86" y1="796.6" x2="2088.69" y2="796.6" stroke="#0068e0" stroke-width="4.6" stroke-linecap="butt"/>
<line x1="2088.69" y1="796.6" x2="2107.52" y2="796.6" stroke="#0068e0" stroke-width="4.6" stroke-linecap="butt"/>
<line x1="2107.52" y1="796.6" x2="2126.36" y2="796.6" stroke="#0068e0" stroke-width="4.6" stroke-linecap="butt"/>
<line x1="2126.36" y1="796.6" x2="2145.19" y2="796.6" stroke="#0068e0" stroke-width="4.6" stroke-linecap="butt"/>
<line x1="2145.19" y1="796.6" x2="2164.03" y2="796.6" stroke="#0068e0" stroke-width="4.6" stroke-linecap="butt"/>
<line x1="2164.03" y1="796.6" x2="2182.86" y2="796.6" stroke="#0068e0" stroke-width="4.6" stroke-linecap="butt"/>
<line x1="2182.86" y1="796.6" x2="2201.69" y2="796.6" stroke="#0068e0" stroke-width="4.6" stroke-linecap="butt"/>
<line x1="2201.69" y1="796.6" x2="2220.53" y2="796.6" stroke="#0068e0" stroke-width="4.6" stroke-linecap="butt"/>
<line x1="2220.53" y1="796.6" x2="2239.36" y2="796.6" stroke="#0068e0" stroke-width="4.6" stroke-linecap="butt"/>
<line x1="2239.36" y1="796.6" x2="2258.2" y2="796.6" stroke="#0068e0" stroke-width="4.6" stroke-linecap="butt"/>
<line x1="2258.2" y1="796.6" x2="2277.03" y2="796.6" stroke="#0068e0" stroke-width="4.6" stroke-linecap="butt"/>
<line x1="2277.03" y1="796.6" x2="2295.86" y2="796.6" stroke="#0068e0" stroke-width="4.6" stroke-linecap="butt"/>
<line x1="2295.86" y1="796.6" x2="2314.7" y2="796.6" stroke="#0068e0" stroke-width="4.6" stroke-linecap="butt"/>
<line x1="2314.7" y1="796.6" x2="2333.53" y2="796.6" stroke="#0068e0" stroke-width="4.6" stroke-linecap="butt"/>
<line x1="2333.53" y1="796.6" x2="2352.37" y2="796.6" stroke="#0068e0" stroke-width="4.6" stroke-linecap="butt"/>
<line x1="2352.37" y1="796.6" x2="2371.2" y2="796.6" stroke="#0068e0" stroke-width="4.6" stroke-linecap="butt"/>
<path d="M1437.58 440.35L1459.08 440.35L1448.33 422.15Z" fill="#0068e0"/>
<path d="M1456.42 442.85L1477.92 442.85L1467.17 424.65Z" fill="#0068e0"/>
<path d="M1475.25 441.35L1496.75 441.35L1486 423.15Z" fill="#0068e0"/>
<path d="M1494.09 441.35L1515.59 441.35L1504.84 423.15Z" fill="#0068e0"/>
<path d="M1512.92 437.85L1534.42 437.85L1523.67 419.65Z" fill="#0068e0"/>
<path d="M1531.75 438.35L1553.25 438.35L1542.5 420.15Z" fill="#0068e0"/>
<path d="M1550.59 439.6L1572.09 439.6L1561.34 421.4Z" fill="#0068e0"/>
<path d="M1569.42 440.35L1590.92 440.35L1580.17 422.15Z" fill="#0068e0"/>
<path d="M1588.26 440.85L1609.76 440.85L1599.01 422.65Z" fill="#0068e0"/>
<path d="M1607.09 441.35L1628.59 441.35L1617.84 423.15Z" fill="#0068e0"/>
<path d="M1625.92 442.85L1647.42 442.85L1636.67 424.65Z" fill="#0068e0"/>
<path d="M1644.76 442.85L1666.26 442.85L1655.51 424.65Z" fill="#0068e0"/>
<path d="M1663.59 514.1L1685.09 514.1L1674.34 495.9Z" fill="#0068e0"/>
<path d="M1682.43 579.1L1703.93 579.1L1693.18 560.9Z" fill="#0068e0"/>
<path d="M1701.26 621.1L1722.76 621.1L1712.01 602.9Z" fill="#0068e0"/>
<path d="M1720.09 686.6L1741.59 686.6L1730.84 668.4Z" fill="#0068e0"/>
<path d="M1738.93 742.85L1760.43 742.85L1749.68 724.65Z" fill="#0068e0"/>
<path d="M1757.76 779.1L1779.26 779.1L1768.51 760.9Z" fill="#0068e0"/>
<path d="M1776.6 784.1L1798.1 784.1L1787.35 765.9Z" fill="#0068e0"/>
<path d="M1795.43 789.1L1816.93 789.1L1806.18 770.9Z" fill="#0068e0"/>
<path d="M1814.26 792.85L1835.76 792.85L1825.01 774.65Z" fill="#0068e0"/>
<path d="M1833.1 794.1L1854.6 794.1L1843.85 775.9Z" fill="#0068e0"/>
<path d="M1851.93 795.35L1873.43 795.35L1862.68 777.15Z" fill="#0068e0"/>
<path d="M1870.77 796.6L1892.27 796.6L1881.52 778.4Z" fill="#0068e0"/>
<path d="M1889.6 797.35L1911.1 797.35L1900.35 779.15Z" fill="#0068e0"/>
<path d="M1908.43 798.1L1929.93 798.1L1919.18 779.9Z" fill="#0068e0"/>
<path d="M1927.27 798.9L1948.77 798.9L1938.02 780.7Z" fill="#0068e0"/>
<path d="M1946.1 798.9L1967.6 798.9L1956.85 780.7Z" fill="#0068e0"/>
<path d="M1964.94 798.9L1986.44 798.9L1975.69 780.7Z" fill="#0068e0"/>
<path d="M1983.77 798.9L2005.27 798.9L1994.52 780.7Z" fill="#0068e0"/>
<path d="M2002.6 798.9L2024.1 798.9L2013.35 780.7Z" fill="#0068e0"/>
<path d="M2021.44 798.9L2042.94 798.9L2032.19 780.7Z" fill="#0068e0"/>
<path d="M2040.27 798.9L2061.77 798.9L2051.02 780.7Z" fill="#0068e0"/>
<path d="M2059.11 798.9L2080.61 798.9L2069.86 780.7Z" fill="#0068e0"/>
<path d="M2077.94 798.9L2099.44 798.9L2088.69 780.7Z" fill="#0068e0"/>
<path d="M2096.77 798.9L2118.27 798.9L2107.52 780.7Z" fill="#0068e0"/>
<path d="M2115.61 798.9L2137.11 798.9L2126.36 780.7Z" fill="#0068e0"/>
<path d="M2134.44 798.9L2155.94 798.9L2145.19 780.7Z" fill="#0068e0"/>
<path d="M2153.28 798.9L2174.78 798.9L2164.03 780.7Z" fill="#0068e0"/>
<path d="M2172.11 798.9L2193.61 798.9L2182.86 780.7Z" fill="#0068e0"/>
<path d="M2190.94 798.9L2212.44 798.9L2201.69 780.7Z" fill="#0068e0"/>
<path d="M2209.78 798.9L2231.28 798.9L2220.53 780.7Z" fill="#0068e0"/>
<path d="M2228.61 798.9L2250.11 798.9L2239.36 780.7Z" fill="#0068e0"/>
<path d="M2247.45 798.9L2268.95 798.9L2258.2 780.7Z" fill="#0068e0"/>
<path d="M2266.28 798.9L2287.78 798.9L2277.03 780.7Z" fill="#0068e0"/>
<path d="M2285.11 798.9L2306.61 798.9L2295.86 780.7Z" fill="#0068e0"/>
<path d="M2303.95 798.9L2325.45 798.9L2314.7 780.7Z" fill="#0068e0"/>
<path d="M2322.78 798.9L2344.28 798.9L2333.53 780.7Z" fill="#0068e0"/>
<path d="M2341.62 798.9L2363.12 798.9L2352.37 780.7Z" fill="#0068e0"/>
<path d="M2360.45 798.9L2381.95 798.9L2371.2 780.7Z" fill="#0068e0"/>
</g>
<line x1="1422" y1="56.8" x2="2373.7" y2="56.8" stroke="#000" stroke-width="5" stroke-linecap="butt"/>
<line x1="1429.5" y1="54.3" x2="1429.5" y2="831.8" stroke="#000" stroke-width="5" stroke-linecap="butt"/>
<line x1="2371.2" y1="54.3" x2="2371.2" y2="831.8" stroke="#000" stroke-width="5" stroke-linecap="butt"/>
<line x1="1429.5" y1="816.8" x2="2371.2" y2="816.8" stroke="#000" stroke-width="5" stroke-linecap="butt"/>
<line x1="1414.5" y1="794.3" x2="1429.5" y2="794.3" stroke="#000" stroke-width="4.6" stroke-linecap="butt"/>
<line x1="1421.5" y1="737.57" x2="1429.5" y2="737.57" stroke="#000" stroke-width="4.6" stroke-linecap="butt"/>
<text x="1404.5" y="807.8" font-size="43.8" text-anchor="end">0</text>
<line x1="1414.5" y1="680.85" x2="1429.5" y2="680.85" stroke="#000" stroke-width="4.6" stroke-linecap="butt"/>
<line x1="1421.5" y1="624.12" x2="1429.5" y2="624.12" stroke="#000" stroke-width="4.6" stroke-linecap="butt"/>
<text x="1403" y="697.05" font-size="43.8" text-anchor="end">1x10<tspan font-size="29" dy="-18">6</tspan></text>
<line x1="1414.5" y1="567.4" x2="1429.5" y2="567.4" stroke="#000" stroke-width="4.6" stroke-linecap="butt"/>
<line x1="1421.5" y1="510.67" x2="1429.5" y2="510.67" stroke="#000" stroke-width="4.6" stroke-linecap="butt"/>
<text x="1403" y="583.6" font-size="43.8" text-anchor="end">2x10<tspan font-size="29" dy="-18">6</tspan></text>
<line x1="1414.5" y1="453.95" x2="1429.5" y2="453.95" stroke="#000" stroke-width="4.6" stroke-linecap="butt"/>
<line x1="1421.5" y1="397.22" x2="1429.5" y2="397.22" stroke="#000" stroke-width="4.6" stroke-linecap="butt"/>
<text x="1403" y="470.15" font-size="43.8" text-anchor="end">3x10<tspan font-size="29" dy="-18">6</tspan></text>
<line x1="1414.5" y1="340.5" x2="1429.5" y2="340.5" stroke="#000" stroke-width="4.6" stroke-linecap="butt"/>
<line x1="1421.5" y1="283.77" x2="1429.5" y2="283.77" stroke="#000" stroke-width="4.6" stroke-linecap="butt"/>
<text x="1403" y="356.7" font-size="43.8" text-anchor="end">4x10<tspan font-size="29" dy="-18">6</tspan></text>
<line x1="1414.5" y1="227.05" x2="1429.5" y2="227.05" stroke="#000" stroke-width="4.6" stroke-linecap="butt"/>
<line x1="1421.5" y1="170.32" x2="1429.5" y2="170.32" stroke="#000" stroke-width="4.6" stroke-linecap="butt"/>
<text x="1403" y="243.25" font-size="43.8" text-anchor="end">5x10<tspan font-size="29" dy="-18">6</tspan></text>
<line x1="1414.5" y1="113.6" x2="1429.5" y2="113.6" stroke="#000" stroke-width="4.6" stroke-linecap="butt"/>
<text x="1403" y="129.8" font-size="43.8" text-anchor="end">6x10<tspan font-size="29" dy="-18">6</tspan></text>
<line x1="1523.67" y1="816.8" x2="1523.67" y2="824.8" stroke="#000" stroke-width="4.6" stroke-linecap="butt"/>
<text x="1429.5" y="876" font-size="44" text-anchor="middle">0</text>
<line x1="1617.84" y1="816.8" x2="1617.84" y2="831.8" stroke="#000" stroke-width="4.6" stroke-linecap="butt"/>
<line x1="1712.01" y1="816.8" x2="1712.01" y2="824.8" stroke="#000" stroke-width="4.6" stroke-linecap="butt"/>
<text x="1617.84" y="876" font-size="44" text-anchor="middle">10</text>
<line x1="1806.18" y1="816.8" x2="1806.18" y2="831.8" stroke="#000" stroke-width="4.6" stroke-linecap="butt"/>
<line x1="1900.35" y1="816.8" x2="1900.35" y2="824.8" stroke="#000" stroke-width="4.6" stroke-linecap="butt"/>
<text x="1806.18" y="876" font-size="44" text-anchor="middle">20</text>
<line x1="1994.52" y1="816.8" x2="1994.52" y2="831.8" stroke="#000" stroke-width="4.6" stroke-linecap="butt"/>
<line x1="2088.69" y1="816.8" x2="2088.69" y2="824.8" stroke="#000" stroke-width="4.6" stroke-linecap="butt"/>
<text x="1994.52" y="876" font-size="44" text-anchor="middle">30</text>
<line x1="2182.86" y1="816.8" x2="2182.86" y2="831.8" stroke="#000" stroke-width="4.6" stroke-linecap="butt"/>
<line x1="2277.03" y1="816.8" x2="2277.03" y2="824.8" stroke="#000" stroke-width="4.6" stroke-linecap="butt"/>
<text x="2182.86" y="876" font-size="44" text-anchor="middle">40</text>
<text x="2371.2" y="876" font-size="44" text-anchor="middle">50</text>
<text transform="translate(1267.5 469.4) rotate(-90)" font-size="50.2" font-weight="bold" text-anchor="middle">Resistance (Ω)</text>
<text x="1892.5" y="925.6" font-size="50.5" font-weight="bold" text-anchor="middle">Time (s)</text>
<text x="1229" y="78.8" font-size="50" font-weight="bold" text-anchor="start">(b)</text>
<text x="2090.5" y="425.6" font-size="43.3" font-weight="bold" text-anchor="start">Ag/In<tspan font-size="29.5" dy="11.7">2</tspan><tspan dy="-11.7">O</tspan><tspan font-size="29.5" dy="11.7">3</tspan><tspan dy="-11.7">-2</tspan></text>
<line x1="2111.8" y1="118" x2="2142.25" y2="118" stroke="#4a4a4a" stroke-width="4.6" stroke-linecap="butt"/>
<line x1="2169.25" y1="118" x2="2200.6" y2="118" stroke="#4a4a4a" stroke-width="4.6" stroke-linecap="butt"/>
<rect x="2148" y="110.25" width="15.5" height="15.5" fill="#3f3f3f"/>
<text x="2209" y="133" font-size="40.3" text-anchor="start">300 <tspan font-size="27" dy="-14.51">o</tspan><tspan dy="14.51">C</tspan></text>
<line x1="2111.8" y1="171.1" x2="2142.25" y2="171.1" stroke="#ff3030" stroke-width="4.6" stroke-linecap="butt"/>
<line x1="2169.25" y1="171.1" x2="2200.6" y2="171.1" stroke="#ff3030" stroke-width="4.6" stroke-linecap="butt"/>
<circle cx="2155.75" cy="171.1" r="9.2" fill="#ff3030"/>
<text x="2209" y="186" font-size="40.3" text-anchor="start">280 <tspan font-size="27" dy="-14.51">o</tspan><tspan dy="14.51">C</tspan></text>
<line x1="2111.8" y1="225.3" x2="2142.25" y2="225.3" stroke="#0068e0" stroke-width="4.6" stroke-linecap="butt"/>
<line x1="2169.25" y1="225.3" x2="2200.6" y2="225.3" stroke="#0068e0" stroke-width="4.6" stroke-linecap="butt"/>
<path d="M2145 232.9L2166.5 232.9L2155.75 214.7Z" fill="#0068e0"/>
<text x="2209" y="239.4" font-size="40.3" text-anchor="start">260 <tspan font-size="27" dy="-14.51">o</tspan><tspan dy="14.51">C</tspan></text>
<line x1="252.3" y1="956.3" x2="1204.5" y2="956.3" stroke="#000" stroke-width="5.6" stroke-linecap="butt"/>
<line x1="259.8" y1="953.5" x2="259.8" y2="1719" stroke="#000" stroke-width="5.6" stroke-linecap="butt"/>
<line x1="1201.7" y1="953.5" x2="1201.7" y2="1719" stroke="#000" stroke-width="5.6" stroke-linecap="butt"/>
<line x1="244.8" y1="1716.2" x2="1201.7" y2="1716.2" stroke="#000" stroke-width="5.6" stroke-linecap="butt"/>
<line x1="244.8" y1="1041" x2="259.8" y2="1041" stroke="#000" stroke-width="4.6" stroke-linecap="butt"/>
<line x1="251.8" y1="1125.4" x2="259.8" y2="1125.4" stroke="#000" stroke-width="4.6" stroke-linecap="butt"/>
<text x="233.4" y="1055" font-size="43.5" text-anchor="end">10.05</text>
<line x1="244.8" y1="1209.8" x2="259.8" y2="1209.8" stroke="#000" stroke-width="4.6" stroke-linecap="butt"/>
<line x1="251.8" y1="1294.2" x2="259.8" y2="1294.2" stroke="#000" stroke-width="4.6" stroke-linecap="butt"/>
<text x="233.4" y="1223.8" font-size="43.5" text-anchor="end">10.00</text>
<line x1="244.8" y1="1378.6" x2="259.8" y2="1378.6" stroke="#000" stroke-width="4.6" stroke-linecap="butt"/>
<line x1="251.8" y1="1463" x2="259.8" y2="1463" stroke="#000" stroke-width="4.6" stroke-linecap="butt"/>
<text x="233.4" y="1392.6" font-size="43.5" text-anchor="end">9.95</text>
<line x1="244.8" y1="1547.4" x2="259.8" y2="1547.4" stroke="#000" stroke-width="4.6" stroke-linecap="butt"/>
<line x1="251.8" y1="1631.8" x2="259.8" y2="1631.8" stroke="#000" stroke-width="4.6" stroke-linecap="butt"/>
<text x="233.4" y="1561.4" font-size="43.5" text-anchor="end">9.90</text>
<text x="233.4" y="1730.2" font-size="43.5" text-anchor="end">9.85</text>
<line x1="435.7" y1="1716.2" x2="435.7" y2="1732.2" stroke="#000" stroke-width="4.6" stroke-linecap="butt"/>
<line x1="317.83" y1="1716.2" x2="317.83" y2="1724.7" stroke="#000" stroke-width="4.6" stroke-linecap="butt"/>
<text x="435.7" y="1775.6" font-size="43" text-anchor="middle">0.00176</text>
<line x1="671.43" y1="1716.2" x2="671.43" y2="1732.2" stroke="#000" stroke-width="4.6" stroke-linecap="butt"/>
<line x1="553.56" y1="1716.2" x2="553.56" y2="1724.7" stroke="#000" stroke-width="4.6" stroke-linecap="butt"/>
<text x="671.43" y="1775.6" font-size="43" text-anchor="middle">0.00180</text>
<line x1="907.16" y1="1716.2" x2="907.16" y2="1732.2" stroke="#000" stroke-width="4.6" stroke-linecap="butt"/>
<line x1="789.29" y1="1716.2" x2="789.29" y2="1724.7" stroke="#000" stroke-width="4.6" stroke-linecap="butt"/>
<text x="907.16" y="1775.6" font-size="43" text-anchor="middle">0.00184</text>
<line x1="1142.89" y1="1716.2" x2="1142.89" y2="1732.2" stroke="#000" stroke-width="4.6" stroke-linecap="butt"/>
<line x1="1025.02" y1="1716.2" x2="1025.02" y2="1724.7" stroke="#000" stroke-width="4.6" stroke-linecap="butt"/>
<text x="1142.89" y="1775.6" font-size="43" text-anchor="middle">0.00188</text>
<line x1="347" y1="1046.8" x2="1115.4" y2="1674.8" stroke="#ff8a00" stroke-width="4.5" stroke-linecap="butt"/>
<circle cx="346.3" cy="1017.9" r="11.6" fill="url(#gO)"/>
<circle cx="717.3" cy="1404.2" r="11.6" fill="url(#gO)"/>
<circle cx="1116.8" cy="1649.4" r="11.6" fill="url(#gO)"/>
<text transform="translate(110 1342.5) rotate(-90)" font-size="50.1" font-weight="bold" text-anchor="middle">Ln (|dR|/dt)</text>
<text x="729.3" y="1833.2" font-size="51.3" font-weight="bold" text-anchor="middle">1/T (K<tspan font-size="35" dy="-19.5">-1</tspan><tspan dy="19.5">)</tspan></text>
<text x="146.5" y="982.2" font-size="50" font-weight="bold" text-anchor="start">(c)</text>
<text x="921" y="1074.2" font-size="42.5" font-weight="bold" text-anchor="start">In<tspan font-size="30" dy="12">2</tspan><tspan dy="-12">O</tspan><tspan font-size="30" dy="12">3</tspan></text>
<text x="429" y="1482.5" font-size="42.7" font-weight="bold" text-anchor="start">Slope = -1422.21</text>
<text x="428.5" y="1536.7" font-size="42.7" font-weight="bold" text-anchor="start" letter-spacing="0.45">Ea = 11.819 kJ/mol</text>
<line x1="1412.8" y1="957.8" x2="2370.8" y2="957.8" stroke="#000" stroke-width="5.6" stroke-linecap="butt"/>
<line x1="1427.8" y1="955" x2="1427.8" y2="1720.5" stroke="#000" stroke-width="5.6" stroke-linecap="butt"/>
<line x1="2368" y1="955" x2="2368" y2="1720.5" stroke="#000" stroke-width="5.6" stroke-linecap="butt"/>
<line x1="1412.8" y1="1717.7" x2="2368" y2="1717.7" stroke="#000" stroke-width="5.6" stroke-linecap="butt"/>
<line x1="1419.8" y1="1012.1" x2="1427.8" y2="1012.1" stroke="#000" stroke-width="4.6" stroke-linecap="butt"/>
<text x="1400.8" y="971.6" font-size="43.5" text-anchor="end">13.24</text>
<line x1="1412.8" y1="1066.35" x2="1427.8" y2="1066.35" stroke="#000" stroke-width="4.6" stroke-linecap="butt"/>
<line x1="1419.8" y1="1120.65" x2="1427.8" y2="1120.65" stroke="#000" stroke-width="4.6" stroke-linecap="butt"/>
<text x="1400.8" y="1080.15" font-size="43.5" text-anchor="end">13.22</text>
<line x1="1412.8" y1="1174.9" x2="1427.8" y2="1174.9" stroke="#000" stroke-width="4.6" stroke-linecap="butt"/>
<line x1="1419.8" y1="1229.2" x2="1427.8" y2="1229.2" stroke="#000" stroke-width="4.6" stroke-linecap="butt"/>
<text x="1400.8" y="1188.7" font-size="43.5" text-anchor="end">13.20</text>
<line x1="1412.8" y1="1283.45" x2="1427.8" y2="1283.45" stroke="#000" stroke-width="4.6" stroke-linecap="butt"/>
<line x1="1419.8" y1="1337.75" x2="1427.8" y2="1337.75" stroke="#000" stroke-width="4.6" stroke-linecap="butt"/>
<text x="1400.8" y="1297.25" font-size="43.5" text-anchor="end">13.18</text>
<line x1="1412.8" y1="1392" x2="1427.8" y2="1392" stroke="#000" stroke-width="4.6" stroke-linecap="butt"/>
<line x1="1419.8" y1="1446.3" x2="1427.8" y2="1446.3" stroke="#000" stroke-width="4.6" stroke-linecap="butt"/>
<text x="1400.8" y="1405.8" font-size="43.5" text-anchor="end">13.16</text>
<line x1="1412.8" y1="1500.55" x2="1427.8" y2="1500.55" stroke="#000" stroke-width="4.6" stroke-linecap="butt"/>
<line x1="1419.8" y1="1554.85" x2="1427.8" y2="1554.85" stroke="#000" stroke-width="4.6" stroke-linecap="butt"/>
<text x="1400.8" y="1514.35" font-size="43.5" text-anchor="end">13.14</text>
<line x1="1412.8" y1="1609.1" x2="1427.8" y2="1609.1" stroke="#000" stroke-width="4.6" stroke-linecap="butt"/>
<line x1="1419.8" y1="1663.4" x2="1427.8" y2="1663.4" stroke="#000" stroke-width="4.6" stroke-linecap="butt"/>
<text x="1400.8" y="1622.9" font-size="43.5" text-anchor="end">13.12</text>
<text x="1400.8" y="1731.45" font-size="43.5" text-anchor="end">13.10</text>
<line x1="1603.7" y1="1717.7" x2="1603.7" y2="1733.7" stroke="#000" stroke-width="4.6" stroke-linecap="butt"/>
<line x1="1485.8" y1="1717.7" x2="1485.8" y2="1726.2" stroke="#000" stroke-width="4.6" stroke-linecap="butt"/>
<text x="1603.7" y="1777.6" font-size="43" text-anchor="middle">0.00176</text>
<line x1="1839.4" y1="1717.7" x2="1839.4" y2="1733.7" stroke="#000" stroke-width="4.6" stroke-linecap="butt"/>
<line x1="1721.5" y1="1717.7" x2="1721.5" y2="1726.2" stroke="#000" stroke-width="4.6" stroke-linecap="butt"/>
<text x="1839.4" y="1777.6" font-size="43" text-anchor="middle">0.00180</text>
<line x1="2075.1" y1="1717.7" x2="2075.1" y2="1733.7" stroke="#000" stroke-width="4.6" stroke-linecap="butt"/>
<line x1="1957.2" y1="1717.7" x2="1957.2" y2="1726.2" stroke="#000" stroke-width="4.6" stroke-linecap="butt"/>
<text x="2075.1" y="1777.6" font-size="43" text-anchor="middle">0.00184</text>
<line x1="2310.8" y1="1717.7" x2="2310.8" y2="1733.7" stroke="#000" stroke-width="4.6" stroke-linecap="butt"/>
<line x1="2192.9" y1="1717.7" x2="2192.9" y2="1726.2" stroke="#000" stroke-width="4.6" stroke-linecap="butt"/>
<text x="2310.8" y="1777.6" font-size="43" text-anchor="middle">0.00188</text>
<line x1="1516.5" y1="996.3" x2="2288" y2="1629.1" stroke="#00bb1e" stroke-width="4.7" stroke-linecap="round"/>
<circle cx="1512.7" cy="1009.4" r="12.3" fill="url(#gG)"/>
<circle cx="1885.8" cy="1275.3" r="12.3" fill="url(#gG)"/>
<circle cx="2284.5" cy="1641.8" r="12.3" fill="url(#gG)"/>
<text transform="translate(1269.8 1342.5) rotate(-90)" font-size="49.4" font-weight="bold" text-anchor="middle">Ln (|dR|/dt)</text>
<text x="1894.2" y="1842.7" font-size="51.3" font-weight="bold" text-anchor="middle">1/T (K<tspan font-size="35" dy="-19.5">-1</tspan><tspan dy="19.5">)</tspan></text>
<text x="1230.5" y="984.5" font-size="50" font-weight="bold" text-anchor="start">(d)</text>
<text x="2030.5" y="1081.4" font-size="43.3" font-weight="bold" text-anchor="start">Ag/In<tspan font-size="29.5" dy="11.7">2</tspan><tspan dy="-11.7">O</tspan><tspan font-size="29.5" dy="11.7">3</tspan><tspan dy="-11.7">-2</tspan></text>
<text x="1575" y="1476.3" font-size="43.4" font-weight="bold" text-anchor="start">Slope = -890.96</text>
<text x="1573.5" y="1529.5" font-size="43.4" font-weight="bold" text-anchor="start">Ea = 7.404 kJ/mol</text>
</g>
</svg></body></html>
